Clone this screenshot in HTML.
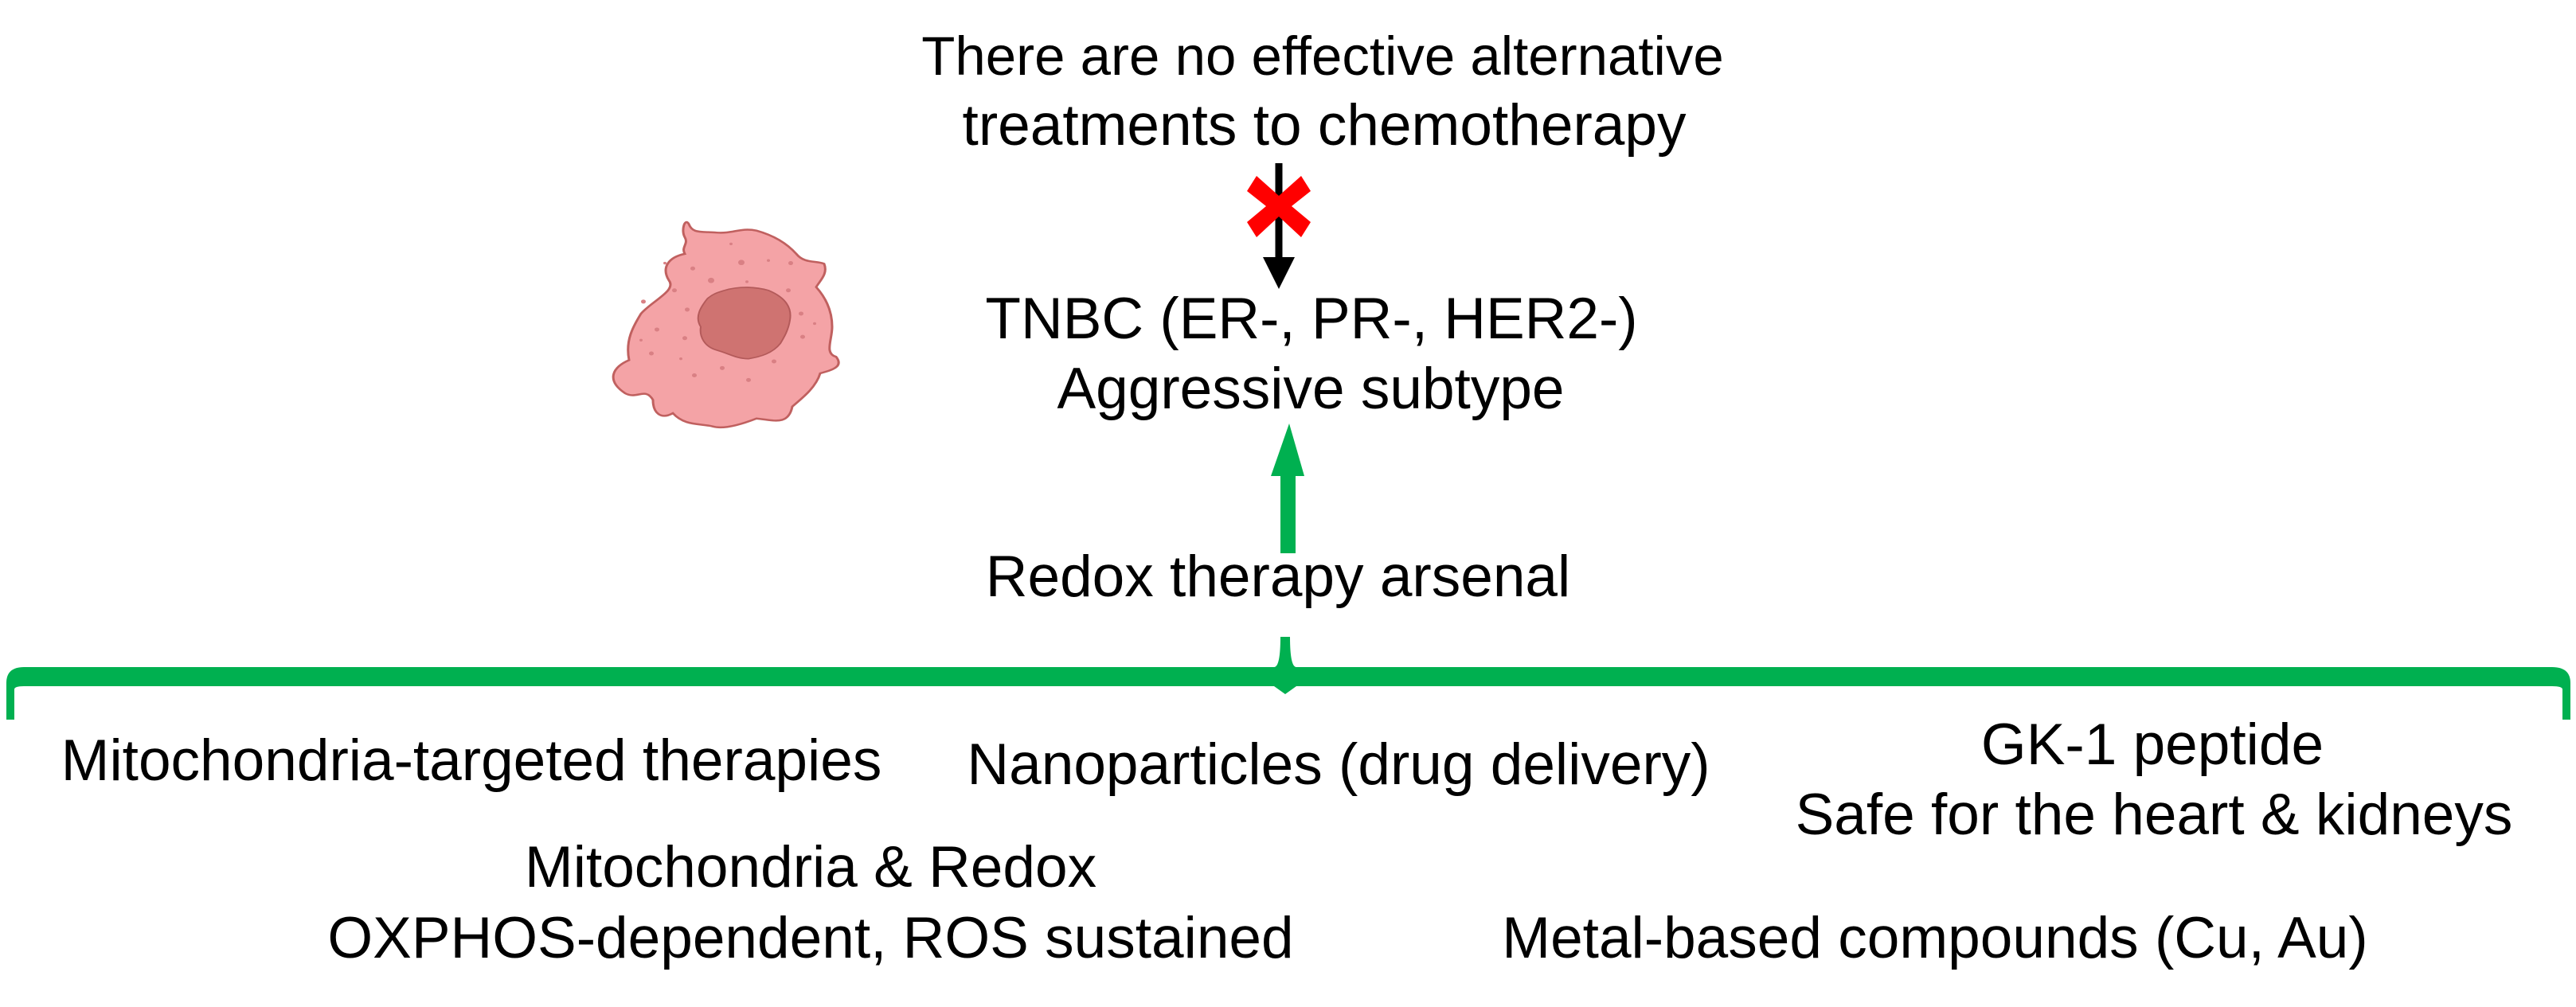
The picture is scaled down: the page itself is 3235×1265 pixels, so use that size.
<!DOCTYPE html>
<html><head><meta charset="utf-8"><style>
html,body{margin:0;padding:0;background:#fff}
svg{display:block}
text{font-family:"Liberation Sans",Arial,sans-serif;font-size:73px;fill:#000}
</style></head><body>
<svg width="3235" height="1265" viewBox="0 0 3235 1265" xmlns="http://www.w3.org/2000/svg">
<g text-anchor="middle">
<text x="1661" y="94" style="font-size:69px">There are no effective alternative</text>
<text x="1663" y="182">treatments to chemotherapy</text>
<text x="1647" y="425">TNBC (ER-, PR-, HER2-)</text>
<text x="1646" y="513">Aggressive subtype</text>
<text x="1605" y="749">Redox therapy arsenal</text>
<text x="592" y="980">Mitochondria-targeted therapies</text>
<text x="1681" y="985">Nanoparticles (drug delivery)</text>
<text x="2703" y="960">GK-1 peptide</text>
<text x="2705" y="1048">Safe for the heart &amp; kidneys</text>
<text x="1018" y="1114">Mitochondria &amp; Redox</text>
<text x="1018" y="1203">OXPHOS-dependent, ROS sustained</text>
<text x="2430" y="1203">Metal-based compounds (Cu, Au)</text>
</g>
<!-- black arrow -->
<line x1="1606" y1="205" x2="1606" y2="330" stroke="#000" stroke-width="9"/>
<polygon points="1586,323 1626,323 1606,363" fill="#000"/>
<!-- red X -->
<polygon points="1566,240 1578,221 1606,246 1634,221 1646,240 1622,259 1646,279 1634,298 1606,272 1578,298 1566,279 1590,259" fill="#ff0000"/>
<!-- green arrow -->
<rect x="1608" y="595" width="19" height="100" fill="#00b050"/>
<polygon points="1596,598 1638,598 1619,532" fill="#00b050"/>
<!-- brace -->
<path d="M8,904 L8,858 Q8,838 30,838 L1600,838 Q1608,838 1608,800 L1620,800 Q1620,838 1628,838 L3205,838 Q3228,838 3228,858 L3228,904 L3218,904 L3218,866 Q3218,862 3205,862 L1628,862 L1614,872 L1600,862 L30,862 Q18,862 18,866 L18,904 Z" fill="#00b050"/>
<!-- cell -->
<g transform="translate(760,260.5) scale(1,0.834)">
<path d="M100,70 C80,75 70,90 80,110 C90,125 60,140 45,160 C35,180 25,200 30,230 C10,240 0,260 25,280 C40,290 50,270 60,290 C60,310 70,320 85,310 C100,330 120,325 135,330 C150,335 175,325 190,318 C210,320 230,330 235,300 C250,285 265,270 270,250 C285,245 300,240 290,225 C275,220 285,200 285,180 C285,160 280,140 265,120 C270,110 280,100 275,85 C265,80 250,85 240,70 C225,50 205,40 190,35 C170,30 160,40 140,38 C120,36 110,40 105,25 C100,15 95,35 100,45 C105,55 95,60 100,70 Z" fill="#f4a3a6" stroke="#c0605f" stroke-width="3"/>
<path d="M150,125 C170,118 190,120 205,125 C225,135 235,150 232,170 C230,185 225,195 220,205 C210,220 195,225 180,228 C165,228 155,220 140,215 C125,210 118,195 120,180 C112,165 120,150 128,138 C135,130 142,128 150,125 Z" fill="#cf7371" stroke="#b35a5a" stroke-width="2"/>
<g fill="#d98084">
<circle cx="171" cy="83" r="4"/><circle cx="133" cy="110" r="4"/><circle cx="110" cy="92" r="3"/>
<circle cx="87" cy="125" r="3"/><circle cx="48" cy="142" r="3"/><circle cx="103" cy="154" r="3"/>
<circle cx="65" cy="184" r="3"/><circle cx="100" cy="197" r="3"/><circle cx="45" cy="200" r="2"/>
<circle cx="58" cy="220" r="3"/><circle cx="95" cy="228" r="2"/><circle cx="147" cy="242" r="3"/>
<circle cx="112" cy="253" r="3"/><circle cx="180" cy="260" r="3"/><circle cx="212" cy="232" r="3"/>
<circle cx="248" cy="195" r="3"/><circle cx="246" cy="160" r="3"/><circle cx="263" cy="175" r="2"/>
<circle cx="230" cy="125" r="3"/><circle cx="233" cy="84" r="3"/><circle cx="205" cy="80" r="2"/>
<circle cx="178" cy="112" r="2"/><circle cx="158" cy="55" r="2"/><circle cx="75" cy="84" r="2"/>
</g>
</g>
</svg>
</body></html>
